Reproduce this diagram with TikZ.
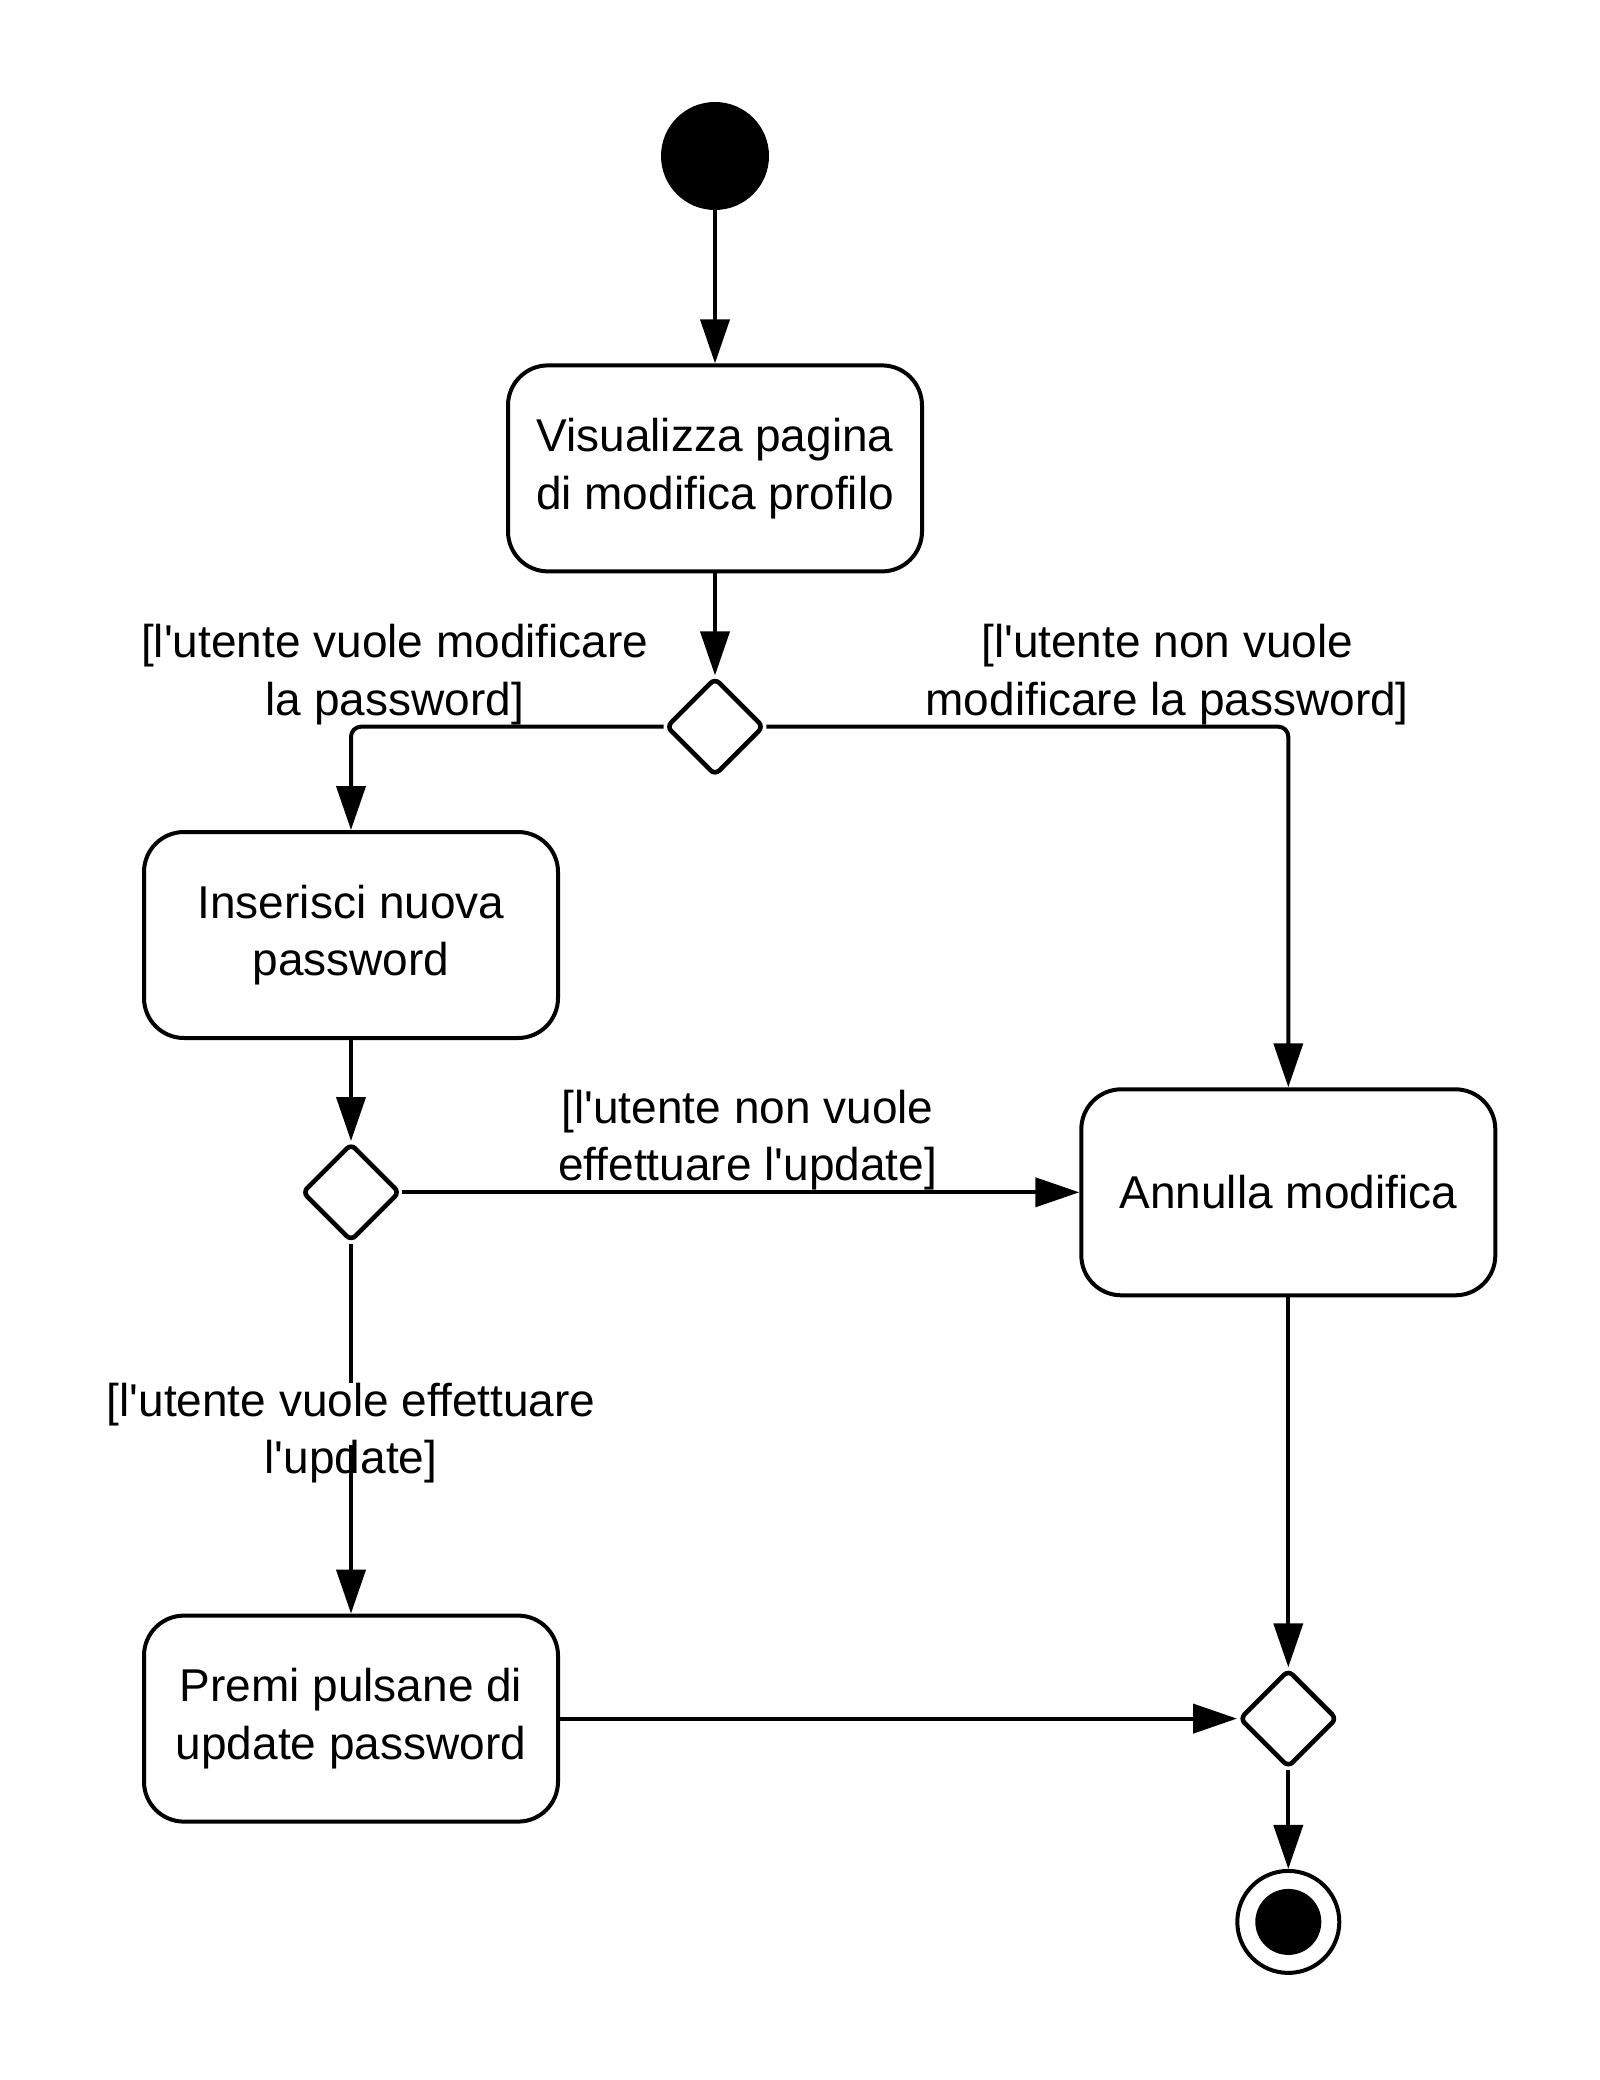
\documentclass[tikz,border=0pt]{standalone}
\usepackage{fontspec}
\setmainfont{Liberation Sans}[Ligatures=TeXOff]
\usetikzlibrary{arrows.meta,shapes.geometric,positioning}
\tikzstyle{action} = [
  rectangle, draw, line width=2pt, rounded corners=20pt, align=center,
  minimum width=207pt, minimum height=103pt, inner sep=0pt
]
\tikzstyle{decision} = [
  diamond, draw, line width=2.3pt, rounded corners=3pt,
  minimum width=49pt, minimum height=49pt, inner sep=0pt
]
\tikzstyle{startnode} = [circle, fill, minimum size=54pt, inner sep=0pt]
\tikzstyle{endnode} = [
  circle, draw, line width=2pt, minimum size=51pt, inner sep=0pt,
  path picture={\fill (path picture bounding box.center) circle (16.5pt);}
]
\tikzstyle{guard} = [align=center, inner sep=0pt]
\tikzstyle{link} = [line width=2pt]
\tikzstyle{flow} = [link, -{Triangle[length=22pt,width=14.5pt]}]

\begin{document}
\begin{tikzpicture}[font=\fontsize{23pt}{28.75pt}\selectfont]
    \useasboundingbox (0,0) rectangle (799.5pt,-1040pt);

    \node[startnode] (start) at (357.5pt,-78pt) {};
    \node[action, below=76.5pt of start] (visual) {Visualizza pagina\\di modifica profilo};
    \node[decision, below=51pt of visual] (d1) {};
    \node[action, below=26pt of d1, xshift=-182pt] (insert) {Inserisci nuova\\password};
    \node[decision, below=50.5pt of insert] (d2) {};
    \node[action, right=338.5pt of d2] (annulla) {Annulla modifica};
    \node[guard, below=69.5pt of d2] (upd) {[l'utente vuole effettuare\\l'update]};
    \node[action, below=185pt of d2] (premi) {Premi pulsane di\\update password};
    \node[decision, right=338.5pt of premi] (d3) {};
    \node[endnode, below=49.5pt of d3] (stop) {};

    \draw[flow] (start.south) -- (visual.north);
    \draw[flow] (visual.south) -- (d1.north);
    \draw[flow, rounded corners=5pt] (d1.west) -| node[guard, pos=0.43, above] {[l'utente vuole modificare\\la password]} (insert.north);
    \draw[flow, rounded corners=5pt] (d1.east) -| node[guard, pos=0.384, above] {[l'utente non vuole\\modificare la password]} (annulla.north);
    \draw[flow] (insert.south) -- (d2.north);
    \draw[flow] (d2.east) -- node[guard, pos=0.51, above] {[l'utente non vuole\\effettuare l'update]} (annulla.west);
    \draw[link] (d2.south) -- (upd.north);
    \draw[flow] ([yshift=-6pt]upd.center) -- (premi.north);
    \draw[flow] (premi.east) -- (d3.west);
    \draw[flow] (annulla.south) -- (d3.north);
    \draw[flow] (d3.south) -- (stop.north);
  \end{tikzpicture}
\end{document}
